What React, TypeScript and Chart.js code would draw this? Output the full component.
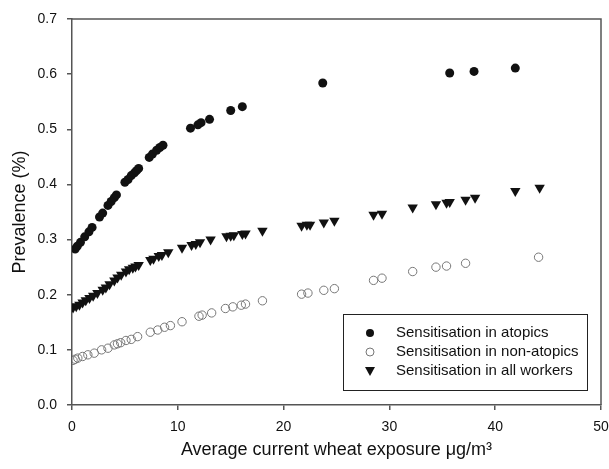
import React, { useEffect, useRef } from "react";
import { Chart, registerables } from "chart.js";

Chart.register(...registerables);

const atopicX = [0.3, 0.5, 0.8, 1.2, 1.6, 1.9, 2.6, 2.9, 3.4, 3.7, 4.0, 4.2, 5.0, 5.3, 5.6, 5.9, 6.1, 6.3, 7.3, 7.6, 8.0, 8.3, 8.6, 11.2, 11.9, 12.2, 13.0, 15.0, 16.1, 23.7, 35.7, 38.0, 41.9];
const atopicY = [0.283, 0.288, 0.295, 0.305, 0.314, 0.322, 0.341, 0.348, 0.362, 0.369, 0.376, 0.381, 0.404, 0.409, 0.416, 0.421, 0.425, 0.429, 0.449, 0.455, 0.462, 0.467, 0.471, 0.502, 0.508, 0.512, 0.518, 0.534, 0.541, 0.584, 0.602, 0.605, 0.611];

const nonX = [0.1, 0.3, 0.55, 1.0, 1.5, 2.1, 2.8, 3.4, 4.0, 4.3, 4.6, 5.1, 5.6, 6.2, 7.4, 8.1, 8.75, 9.3, 10.4, 12.0, 12.3, 13.2, 14.5, 15.2, 16.0, 16.4, 18.0, 21.7, 22.3, 23.8, 24.8, 28.5, 29.3, 32.2, 34.4, 35.4, 37.2, 44.1];
const nonY = [0.081, 0.083, 0.085, 0.088, 0.091, 0.094, 0.100, 0.103, 0.109, 0.111, 0.113, 0.117, 0.119, 0.124, 0.132, 0.136, 0.141, 0.144, 0.151, 0.161, 0.163, 0.167, 0.175, 0.178, 0.181, 0.183, 0.189, 0.201, 0.203, 0.208, 0.211, 0.226, 0.230, 0.242, 0.250, 0.252, 0.257, 0.268];

const allX = [0.1, 0.4, 0.7, 1.0, 1.3, 1.65, 2.0, 2.4, 2.9, 3.2, 3.55, 4.0, 4.3, 4.65, 5.1, 5.4, 5.75, 6.0, 6.3, 7.4, 7.7, 8.2, 8.5, 9.1, 10.4, 11.3, 11.7, 12.1, 13.1, 14.6, 15.0, 15.3, 16.1, 16.4, 18.0, 21.7, 22.2, 22.5, 23.8, 24.8, 28.5, 29.3, 32.2, 34.4, 35.4, 35.7, 37.2, 38.1, 41.9, 44.2];
const allY = [0.177, 0.179, 0.182, 0.186, 0.190, 0.194, 0.198, 0.203, 0.209, 0.213, 0.219, 0.226, 0.231, 0.236, 0.242, 0.246, 0.249, 0.251, 0.254, 0.263, 0.265, 0.270, 0.272, 0.277, 0.285, 0.290, 0.292, 0.295, 0.300, 0.306, 0.307, 0.308, 0.310, 0.311, 0.316, 0.325, 0.327, 0.327, 0.331, 0.334, 0.345, 0.347, 0.358, 0.364, 0.367, 0.368, 0.372, 0.376, 0.388, 0.394];

const seriesLabels = ["Sensitisation in atopics", "Sensitisation in non-atopics", "Sensitisation in all workers"];
const xTitle = "Average current wheat exposure \u03bcg/m\u00b3";
const yTitle = "Prevalence (%)";

const FONT = "'Liberation Sans', Arial, sans-serif";
const AXIS = "#555555";
const INK = "#111111";

const toPts = (xs: number[], ys: number[]) => xs.map((x, i) => ({ x, y: ys[i] }));

const framePlugin = {
  id: "frame",
  afterDatasetsDraw(chart: any) {
    const { ctx, chartArea } = chart;
    ctx.save();
    ctx.strokeStyle = AXIS;
    ctx.lineWidth = 1.5;
    ctx.beginPath();
    ctx.moveTo(chartArea.left, chartArea.top);
    ctx.lineTo(chartArea.right, chartArea.top);
    ctx.lineTo(chartArea.right, chartArea.bottom);
    ctx.stroke();

    // legend box
    const bx = 343, by = 314, bw = 244, bh = 76;
    ctx.fillStyle = "#ffffff";
    ctx.fillRect(bx, by, bw, bh);
    ctx.strokeStyle = "#222222";
    ctx.lineWidth = 1;
    ctx.strokeRect(bx + 0.5, by + 0.5, bw, bh);
    const rows = [333, 352, 371];
    const mx = 370;
    ctx.font = `15px ${FONT}`;
    ctx.textBaseline = "middle";
    ctx.textAlign = "left";
    rows.forEach((ry, i) => {
      ctx.beginPath();
      if (i === 0) {
        ctx.fillStyle = INK;
        ctx.arc(mx, ry, 4, 0, Math.PI * 2);
        ctx.fill();
      } else if (i === 1) {
        ctx.strokeStyle = "#777777";
        ctx.lineWidth = 1;
        ctx.arc(mx, ry, 4, 0, Math.PI * 2);
        ctx.stroke();
      } else {
        ctx.fillStyle = INK;
        ctx.moveTo(mx - 5, ry - 4);
        ctx.lineTo(mx + 5, ry - 4);
        ctx.lineTo(mx, ry + 5);
        ctx.closePath();
        ctx.fill();
      }
      ctx.fillStyle = INK;
      ctx.fillText(seriesLabels[i], 396, ry);
    });
    ctx.restore();
  },
};

export default function App() {
  const ref = useRef<HTMLCanvasElement | null>(null);
  useEffect(() => {
    if (!ref.current) return;
    const chart = new Chart(ref.current, {
      type: "scatter",
      data: {
        datasets: [
          {
            label: seriesLabels[0],
            data: toPts(atopicX, atopicY),
            pointStyle: "circle",
            pointRadius: 4.5,
            backgroundColor: INK,
            borderColor: INK,
            borderWidth: 0,
          },
          {
            label: seriesLabels[1],
            data: toPts(nonX, nonY),
            pointStyle: "circle",
            pointRadius: 4.2,
            backgroundColor: "rgba(0,0,0,0)",
            borderColor: "#777777",
            borderWidth: 1,
          },
          {
            label: seriesLabels[2],
            data: toPts(allX, allY),
            pointStyle: "triangle",
            rotation: 180,
            pointRadius: 6,
            backgroundColor: INK,
            borderColor: INK,
            borderWidth: 0,
          },
        ],
      },
      options: {
        responsive: false,
        animation: false,
        layout: { padding: { top: 19, right: 8, left: 0, bottom: 0 } },
        plugins: { legend: { display: false }, tooltip: { enabled: false } },
        scales: {
          x: {
            type: "linear",
            min: 0,
            max: 50,
            ticks: { stepSize: 10, color: INK, font: { size: 14, family: FONT }, padding: 9 },
            grid: { drawOnChartArea: false, drawTicks: true, tickLength: 5, color: AXIS, lineWidth: 1.5 },
            border: { display: true, color: AXIS, width: 1.5 },
            title: { display: true, text: xTitle, color: INK, font: { size: 18, family: FONT }, padding: { top: 0, bottom: 8 } },
            afterFit: (s: any) => { s.height = 64; s.paddingLeft = 0; s.paddingRight = 0; },
          },
          y: {
            type: "linear",
            min: 0,
            max: 0.7,
            ticks: { stepSize: 0.1, color: INK, font: { size: 14, family: FONT }, padding: 10, callback: (v: any) => Number(v).toFixed(1) },
            grid: { drawOnChartArea: false, drawTicks: true, tickLength: 5, color: AXIS, lineWidth: 1.5 },
            border: { display: true, color: AXIS, width: 1.5 },
            title: { display: true, text: yTitle, color: INK, font: { size: 18, family: FONT }, padding: { top: 9, bottom: 0 } },
            afterFit: (s: any) => { s.width = 72; s.paddingTop = 0; s.paddingBottom = 0; },
          },
        },
      },
      plugins: [framePlugin],
    } as any);
    return () => chart.destroy();
  }, []);
  return (
    <div style={{ position: "absolute", left: 0, top: 0, width: 609, height: 469, background: "#fff" }}>
      <canvas ref={ref} width={609} height={469} style={{ display: "block" }} />
    </div>
  );
}
